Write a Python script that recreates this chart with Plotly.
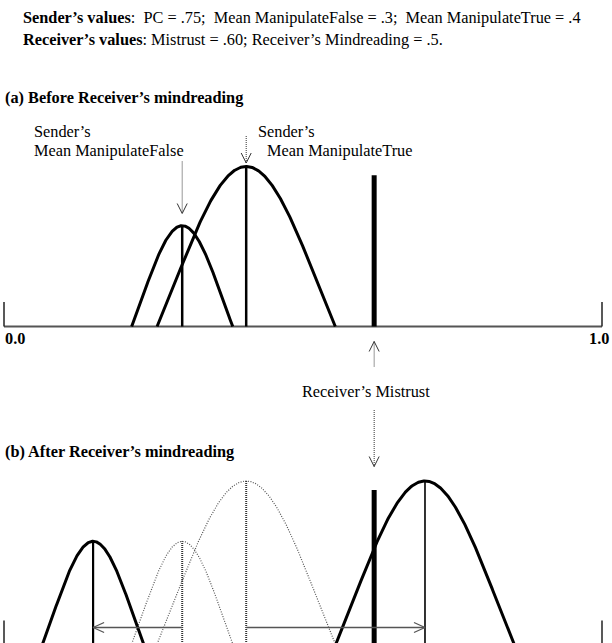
import numpy as np
import plotly.graph_objects as go

# ---------------- data ----------------
curve_names = ["ManipulateFalse", "ManipulateTrue"]
means_before = [0.298, 0.405]      # sender's means (panel a)
means_after = [0.149, 0.704]       # after receiver's mindreading (panel b)
half_widths = [0.0845, 0.149]      # half support of each distribution
peak_heights = [0.63, 1.0]         # relative peak heights
mistrust = 0.619                   # receiver's mistrust position
mistrust_height = 0.945
axis_ticks = [0.0, 1.0]
tick_labels = ["0.0", "1.0"]

header1 = "<b>Sender\u2019s values</b>:\u00a0 PC = .75;\u00a0 Mean ManipulateFalse = .3;\u00a0 Mean ManipulateTrue = .4"
header2 = "<b>Receiver\u2019s values</b>: Mistrust = .60; Receiver\u2019s Mindreading = .5."
title_a = "<b>(a) Before Receiver\u2019s mindreading</b>"
title_b = "<b>(b) After Receiver\u2019s mindreading</b>"

# ---------------- geometry helpers ----------------
W, H = 612, 643
PX0, PXW = 4.0, 598.0              # pixel of x=0, pixels per x unit
BASE_A, SCALE_A = 326.5, 160.0     # panel a baseline pixel, px per y unit
BASE_B, SCALE_B = 644.0, 163.0     # panel b baseline pixel, px per y unit
FONT = "Liberation Serif, Times New Roman, serif"
FS = 16.3


def xd(px):
    return (px - PX0) / PXW


def yp(py):
    return (H - py) / H


def ya(py):
    return (BASE_A - py) / SCALE_A


def yb(py):
    return (BASE_B - py) / SCALE_B


K = 1.25


def shape(u):
    base = np.exp(-K * K / 2)
    return (np.exp(-(K * u) ** 2 / 2) - base) / (1 - base)


def curve(m, hw, h):
    u = np.linspace(-1, 1, 301)
    return m + u * hw, h * shape(u)


fig = go.Figure()


def line(x, y, axis="y", color="black", width=2, dash=None):
    fig.add_trace(go.Scatter(x=x, y=y, yaxis=axis, mode="lines", hoverinfo="skip",
                             line=dict(color=color, width=width, dash=dash),
                             showlegend=False))


# ---------------- panel (a) ----------------
line([axis_ticks[0], axis_ticks[1]], [0, 0], "y", "#555", 2)
for t in axis_ticks:
    line([t, t], [0, ya(302)], "y", "#222", 1.5)
for m, hw, h in zip(means_before, half_widths, peak_heights):
    cx, cy = curve(m, hw, h)
    line(cx, cy, "y", "black", 3)
    line([m, m], [0, h], "y", "black", 2.5)
line([mistrust, mistrust], [0, mistrust_height], "y", "black", 5)

# ---------------- panel (b) ----------------
for t in axis_ticks:
    line([t, t], [0, yb(620.5)], "y2", "#222", 1.5)
line([axis_ticks[0], axis_ticks[1]], [0, 0], "y2", "#555", 2)
# ghost (before) distributions
for m, hw, h in zip(means_before, half_widths, peak_heights):
    cx, cy = curve(m, hw, h)
    line(cx, cy, "y2", "#555", 1.2, "1px,1.5px")
    line([m, m], [0, h], "y2", "#333", 2, "1px,1px")
# shifted distributions
for m, hw, h, lw in zip(means_after, half_widths, peak_heights, [2.2, 1.6]):
    cx, cy = curve(m, hw, h)
    line(cx, cy, "y2", "black", 3)
    line([m, m], [0, h], "y2", "black", lw)
line([mistrust, mistrust], [0, mistrust_height], "y2", "black", 5)

# horizontal shift arrows
ARW_Y = yb(627.5)
shapes = []
for m0, m1 in zip(means_before, means_after):
    line([m0, m1], [ARW_Y, ARW_Y], "y2", "#555", 1.5)
    s = np.sign(m1 - m0)
    hx = m1 - s * 11 / PXW
    dy = 5 / SCALE_B
    line([hx, m1, hx], [ARW_Y + dy, ARW_Y, ARW_Y - dy], "y2", "#555", 1.3)


# vertical dotted arrows (paper y)
def varrow(x, y_start, y_tip):
    shapes.append(dict(type="line", xref="x", yref="paper", x0=x, x1=x,
                       y0=yp(y_start), y1=yp(y_tip),
                       line=dict(color="#333", width=1, dash="1px,1px")))
    d = 1 if y_tip > y_start else -1
    for sx in (-1, 1):
        shapes.append(dict(type="line", xref="x", yref="paper",
                           x0=x + sx * 5 / PXW, y0=yp(y_tip - d * 10), x1=x, y1=yp(y_tip),
                           line=dict(color="#333", width=1)))


varrow(means_before[0], 161.5, 213.5)
varrow(means_before[1], 136, 163)
varrow(mistrust, 366.5, 341.5)
varrow(mistrust, 410, 466.5)

# ---------------- text ----------------
ann = []


def text(s, px, py, anchor="left", size=FS):
    ann.append(dict(text=s, xref="paper", yref="paper", x=px / W, y=yp(py),
                    xanchor=anchor, yanchor="middle", showarrow=False,
                    font=dict(family=FONT, size=size, color="black")))


text(header1, 21, 17)
text(header2, 21, 40)
text(title_a, 3, 97)
text("Sender\u2019s", 31.5, 131)
text("Mean ManipulateFalse", 31.5, 150)
text("Sender\u2019s", 255.5, 131)
text("Mean ManipulateTrue", 265, 150)
text("Receiver\u2019s Mistrust", 300, 391)
text(title_b, 3, 451)
for t, lab in zip(axis_ticks, tick_labels):
    px = PX0 + t * PXW
    if t == 0:
        text("<b>" + lab + "</b>", px - 1, 338, "left")
    else:
        text("<b>" + lab + "</b>", px + 9, 338, "right")

fig.update_layout(
    width=W, height=H, autosize=False,
    margin=dict(l=0, r=0, t=0, b=0, pad=0),
    paper_bgcolor="white", plot_bgcolor="white",
    xaxis=dict(range=[xd(0), xd(W)], domain=[0, 1], visible=False, fixedrange=True),
    yaxis=dict(range=[ya(H), ya(0)], domain=[0, 1], visible=False, fixedrange=True),
    yaxis2=dict(range=[yb(H), yb(0)], domain=[0, 1], visible=False, overlaying="y",
                anchor="x", fixedrange=True),
    shapes=shapes, annotations=ann, showlegend=False,
)

fig.write_html("out.html", config={"displayModeBar": False},
               post_script="document.body.style.margin='0px';document.body.style.overflow='hidden';")
